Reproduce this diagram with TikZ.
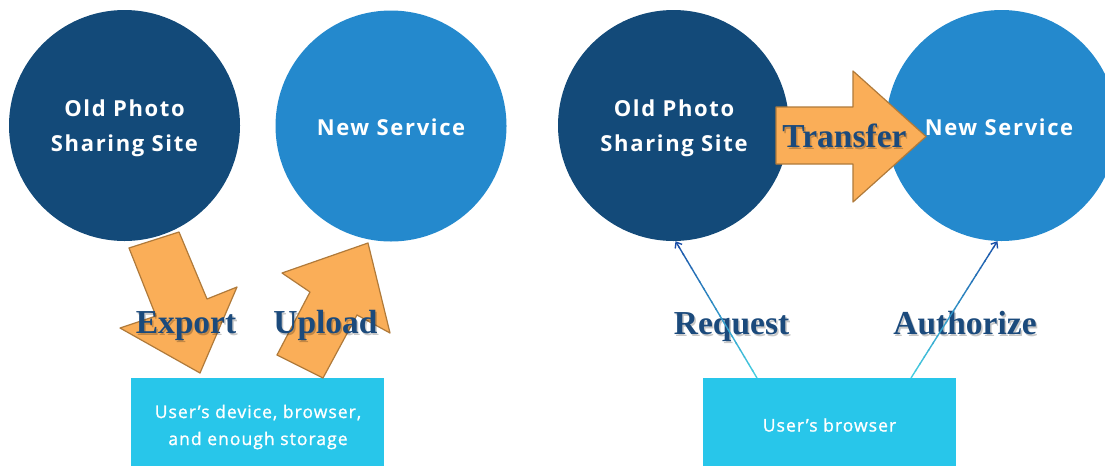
\documentclass[tikz,border=0pt]{standalone}
\usepackage{fontspec}
\usetikzlibrary{calc,arrows.meta}
\newfontfamily\circfont{Open Sans}[LetterSpace=7.5]
\newfontfamily\boxfont{Open Sans}[LetterSpace=6,FakeBold=1.2]
\newfontfamily\labfont{Liberation Serif}
\definecolor{darkc}{HTML}{134A79}
\definecolor{lightc}{HTML}{2489CD}
\definecolor{boxc}{HTML}{28C6EA}
\definecolor{arrfill}{HTML}{FAAE58}
\definecolor{arrdraw}{HTML}{B07A3A}
\definecolor{labc}{HTML}{1B4A7C}
\definecolor{lcyan}{HTML}{45CDE0}
\definecolor{lblue}{HTML}{1A4FA8}
\tikzset{
  circ/.style={circle,minimum size=231pt,inner sep=0pt,draw=none},
  circtext/.style={text=white,align=center,inner sep=0pt,
    font=\circfont\bfseries\fontsize{22}{35}\selectfont},
  boxn/.style={rectangle,minimum width=253pt,minimum height=88pt,inner sep=0pt,fill=boxc},
  boxtext/.style={text=white,align=center,inner sep=0pt,font=\boxfont\fontsize{17.5}{27}\selectfont},
  blockarrow/.style={fill=arrfill,draw=arrdraw,line width=1.2pt,line join=round},
  lab/.style={anchor=base,text=labc,inner sep=0pt,font=\labfont\bfseries\fontsize{33.5}{40}\selectfont},
  labshadow/.style={anchor=base,text=black,opacity=0.22,inner sep=0pt,font=\labfont\bfseries\fontsize{33.5}{40}\selectfont},
  conn/.style={line width=1.4pt}
}
\begin{document}
\begin{tikzpicture}[x=1pt,y=-1pt]
\useasboundingbox (0,0) rectangle (1105,466);
\fill[white] (0,0) rectangle (1105,466);
% left half
\node[circ,fill=darkc] (oldL) at (124.5,125.5) {};
\node[circtext] (oldLt) at (124.5,128.5) {Old Photo\\Sharing Site};
\node[circ,fill=lightc] (newL) at (391,126) {};
\node[circtext] (newLt) at (391,127) {New Service};
\node[boxn,anchor=north west] (boxL) at (131,378) {};
\node[boxtext] (boxLt) at (258,427) {User’s device, browser,\\and enough storage};
\draw[blockarrow] (129,248) -- (179,232) -- (207,299) -- (237,287) -- (200,373) -- (120,328) -- (156,316) -- cycle;
\draw[blockarrow] (277,355) -- (310,292) -- (282,273) -- (368,243) -- (390,333) -- (357,315) -- (323,378) -- cycle;
\node[labshadow] (exportS) at (187.5,335) {Export};
\node[lab] (export) at (186,333) {Export};
\node[labshadow] (uploadS) at (327,335) {Upload};
\node[lab] (upload) at (325.5,333) {Upload};
% right half
\node[circ,fill=darkc] (oldR) at (673.5,125.5) {};
\node[circtext] (oldRt) at (674,128.5) {Old Photo\\Sharing Site};
\node[circ,fill=lightc] (newR) at (1001.5,125.5) {};
\node[boxn,anchor=north west] (boxR) at (703,378) {};
\node[boxtext] (boxRt) at (829.5,425) {User’s browser};
\draw[blockarrow] (776,107) -- (853,107) -- (853,71) -- (926,136.5) -- (853,202) -- (853,164) -- (776,164) -- cycle;
\node[circtext] (newRt) at (999,127) {New Service};
\node[labshadow] (transferS) at (846,149) {Transfer};
\node[lab] (transfer) at (844.5,147) {Transfer};
\node[labshadow] (requestS) at (733,336) {Request};
\node[lab] (request) at (731.5,334) {Request};
\node[labshadow] (authS) at (966.5,336) {Authorize};
\node[lab] (auth) at (965,334) {Authorize};
% connectors
\coordinate (rqA) at ($(boxR.north west)+(54,0)$);
\coordinate (rqB) at (oldR.-89);
\coordinate (auA) at ($(boxR.north west)+(208,0)$);
\coordinate (auB) at (newR.-92);
\foreach \s/\e in {rqA/rqB,auA/auB}{
  \foreach \i in {0,...,18}{
    \pgfmathsetmacro\ta{\i/20}
    \pgfmathsetmacro\tb{(\i+1.15)/20}
    \pgfmathsetmacro\p{100-5*\i}
    \draw[conn,draw=lcyan!\p!lblue] ($(\s)!\ta!(\e)$) -- ($(\s)!\tb!(\e)$);
  }
  \draw[conn,draw=lblue,-{Straight Barb[length=5pt,width=8pt]}] ($(\s)!0.95!(\e)$) -- (\e);
}
\end{tikzpicture}
\end{document}
